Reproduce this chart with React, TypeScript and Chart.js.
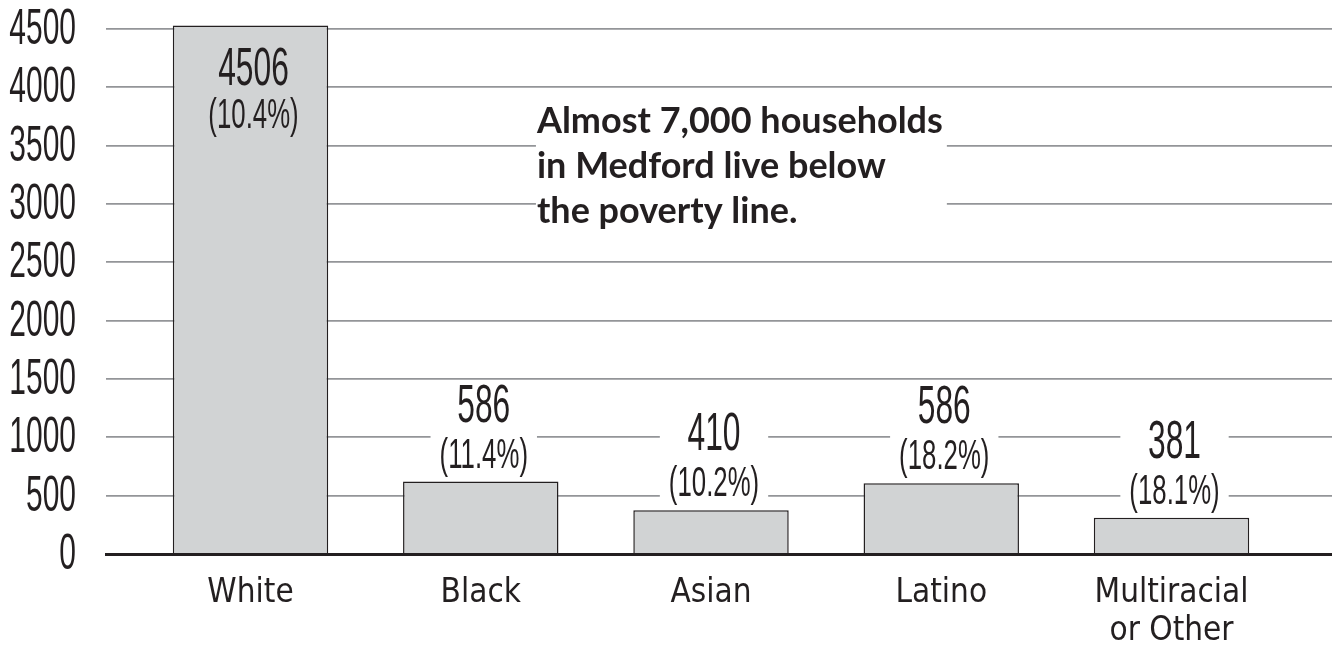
import React, { useEffect, useRef } from 'react';
import { Chart, registerables } from 'chart.js';

Chart.register(...registerables);

// ---------- data ----------
const categories = ['White', 'Black', 'Asian', 'Latino', 'Multiracial or Other'];
const categoryLines = [['White'], ['Black'], ['Asian'], ['Latino'], ['Multiracial', 'or Other']];
const barHeights = [4529, 621, 375, 606, 310];
const countLabels = ['4506', '586', '410', '586', '381'];
const shareLabels = ['(10.4%)', '(11.4%)', '(10.2%)', '(18.2%)', '(18.1%)'];
const yTicks = [0, 500, 1000, 1500, 2000, 2500, 3000, 3500, 4000, 4500];
const noteLines = ['Almost 7,000 households', 'in Medford live below', 'the poverty line.'];

// ---------- style ----------
const INK = '#231f20';
const GRID = '#939598';
const BAR_FILL = '#d1d3d4';

function detectNarrow(): boolean {
  const c = document.createElement('canvas').getContext('2d');
  if (!c) return false;
  c.font = '40px monospace';
  const a = c.measureText('0123456789abcdef').width;
  c.font = "40px 'Liberation Sans Narrow', monospace";
  const b = c.measureText('0123456789abcdef').width;
  return Math.abs(a - b) > 0.5;
}

export default function App() {
  const ref = useRef<HTMLCanvasElement | null>(null);

  useEffect(() => {
    const canvas = ref.current;
    if (!canvas) return;
    const hasNarrow = detectNarrow();
    const condFamily = hasNarrow ? "'Liberation Sans Narrow'" : "'Liberation Sans'";
    const sx = hasNarrow ? 0.735 : 0.6;

    const condText = (
      ctx: CanvasRenderingContext2D,
      text: string,
      x: number,
      y: number,
      size: number,
      align: CanvasTextAlign
    ) => {
      ctx.save();
      ctx.font = `${size}px ${condFamily}`;
      ctx.fillStyle = INK;
      ctx.textAlign = align;
      ctx.textBaseline = 'alphabetic';
      ctx.translate(x, y);
      ctx.scale(sx, 1);
      ctx.fillText(text, 0, 0);
      ctx.restore();
    };
    const condWidth = (ctx: CanvasRenderingContext2D, text: string, size: number) => {
      ctx.save();
      ctx.font = `${size}px ${condFamily}`;
      const w = ctx.measureText(text).width * sx;
      ctx.restore();
      return w;
    };

    const overlay = {
      id: 'overlay',
      afterDatasetsDraw(chart: any) {
        const ctx: CanvasRenderingContext2D = chart.ctx;
        const area = chart.chartArea;
        const meta = chart.getDatasetMeta(0);
        const NUM = 53;
        const PCT = 43;
        meta.data.forEach((bar: any, i: number) => {
          const { x, y } = bar.getProps(['x', 'y'], true);
          const cx = x + 3;
          let numBase: number;
          let pctBase: number;
          let boxed = true;
          if (y - 14 - 46 - 38 < area.top) {
            numBase = y + 59;
            pctBase = numBase + 43;
            boxed = false;
          } else {
            pctBase = y - 14;
            numBase = pctBase - 46;
          }
          if (boxed) {
            const w = Math.max(condWidth(ctx, countLabels[i], NUM), condWidth(ctx, shareLabels[i], PCT)) + 18;
            const top = numBase - 37;
            const bottom = pctBase + 10;
            ctx.save();
            ctx.fillStyle = '#ffffff';
            ctx.fillRect(cx - w / 2, top, w, bottom - top);
            ctx.restore();
          }
          condText(ctx, countLabels[i], cx, numBase, NUM, 'center');
          condText(ctx, shareLabels[i], cx, pctBase, PCT, 'center');
        });

        // annotation
        const xs = chart.scales.x;
        const ys = chart.scales.y;
        const left = xs.getPixelForValue(1.244);
        const base0 = ys.getPixelForValue(3611);
        const lh = 45.3;
        ctx.save();
        ctx.font = "700 36px Lato, 'Open Sans', sans-serif";
        let maxW = 0;
        noteLines.forEach((t) => {
          maxW = Math.max(maxW, ctx.measureText(t).width);
        });
        ctx.fillStyle = '#ffffff';
        ctx.fillRect(left - 1, base0 - 36, maxW + 5, lh * (noteLines.length - 1) + 36 + 14);
        ctx.fillStyle = INK;
        ctx.textAlign = 'left';
        ctx.textBaseline = 'alphabetic';
        noteLines.forEach((t, k) => {
          ctx.fillText(t, left, base0 + k * lh);
        });
        ctx.restore();
      },
      afterDraw(chart: any) {
        const ctx: CanvasRenderingContext2D = chart.ctx;
        const ys = chart.scales.y;
        ys.ticks.forEach((t: any) => {
          const py = ys.getPixelForValue(t.value);
          condText(ctx, String(t.value), 76, py + 15, 50, 'right');
        });
      },
    };

    const chart = new Chart(canvas, {
      type: 'bar',
      data: {
        datasets: [
          {
            label: 'Households below poverty line',
            data: barHeights.map((v, i) => ({ x: i, y: v })),
            backgroundColor: BAR_FILL,
            borderColor: INK,
            borderWidth: 1.5,
            barPercentage: 0.675,
            categoryPercentage: 1,
          },
        ],
      },
      options: {
        animation: false,
        responsive: false,
        maintainAspectRatio: false,
        layout: { padding: { top: 17.3, left: 0, right: 0, bottom: 0 } },
        plugins: {
          legend: { display: false },
          tooltip: { enabled: false },
        },
        scales: {
          x: {
            type: 'linear',
            min: -0.6276,
            max: 4.697,
            offset: false,
            grid: { display: false, offset: false, drawTicks: false },
            border: { display: true, color: INK, width: 3 },
            afterBuildTicks: (axis: any) => {
              axis.ticks = categories.map((_, i) => ({ value: i }));
            },
            afterFit: (axis: any) => {
              axis.height = 93;
            },
            ticks: {
              autoSkip: false,
              maxRotation: 0,
              minRotation: 0,
              padding: 20,
              color: INK,
              font: {
                family: "'DejaVu Sans Condensed', 'DejaVu Sans', sans-serif",
                size: 33,
                lineHeight: 1.16,
              },
              callback: (value: any) => categoryLines[Math.round(Number(value))] ?? '',
            },
          },
          y: {
            type: 'linear',
            min: 0,
            max: 4600,
            grid: {
              drawTicks: false,
              color: (c: any) => (c.tick && c.tick.value === 0 ? 'rgba(0,0,0,0)' : GRID),
              lineWidth: 1.8,
            },
            border: { display: false },
            afterBuildTicks: (axis: any) => {
              axis.ticks = yTicks.map((v) => ({ value: v }));
            },
            afterFit: (axis: any) => {
              axis.width = 106;
            },
            ticks: { display: false },
          },
        },
      },
      plugins: [overlay],
    } as any);

    return () => {
      chart.destroy();
    };
  }, []);

  return (
    <div style={{ position: 'absolute', left: 0, top: 0, width: 1332, height: 647, background: '#fff' }}>
      <canvas ref={ref} width={1332} height={647} style={{ display: 'block', width: 1332, height: 647 }} />
    </div>
  );
}
